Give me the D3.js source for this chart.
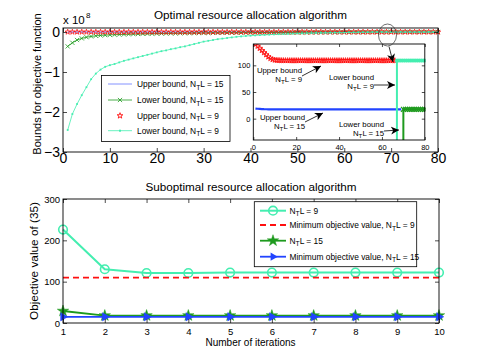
<!DOCTYPE html>
<html><head><meta charset="utf-8">
<script src="https://cdn.jsdelivr.net/npm/d3@7"></script>
<style>body{margin:0;background:#fff}</style>
</head><body><svg id="c" width="485" height="363"></svg>
<script>
// ---------------- DATA ----------------
const iterations = d3.range(1, 81);
const yScaleFactor = 1e8;
const upperBound15 = [
19.0,18.6,18.3,18.0,17.8,17.7,17.6,17.5,17.5,17.5,
17.5,17.5,17.5,17.5,17.5,17.5,17.5,17.5,17.5,17.5,
17.5,17.5,17.5,17.5,17.5,17.5,17.5,17.5,17.5,17.5,
17.5,17.5,17.5,17.5,17.5,17.5,17.5,17.5,17.5,17.5,
17.5,17.5,17.5,17.5,17.5,17.5,17.5,17.5,17.5,17.5,
17.5,17.5,17.5,17.5,17.5,17.5,17.5,17.5,17.5,17.5,
17.5,17.5,17.5,17.5,17.5,17.5,17.5,17.5,17.5,17.5,
17.5,17.5,17.5,17.5,17.5,17.5,17.5,17.5,17.5,17.5];
const lowerBound15 = [
-0.36e8,-0.27e8,-0.20e8,-0.16e8,-0.13e8,-0.11e8,-0.095e8,-0.085e8,-0.078e8,-0.072e8,
-0.067e8,-0.063e8,-0.059e8,-0.055e8,-0.052e8,-0.049e8,-0.046e8,-0.044e8,-0.042e8,-0.040e8,
-0.038e8,-0.036e8,-0.034e8,-0.033e8,-0.031e8,-0.030e8,-0.029e8,-0.027e8,-0.026e8,-0.025e8,
-0.024e8,-0.023e8,-0.022e8,-0.021e8,-0.020e8,-0.019e8,-0.018e8,-0.017e8,-0.016e8,-0.015e8,
-0.014e8,-0.013e8,-0.013e8,-0.012e8,-0.011e8,-0.011e8,-0.010e8,-0.010e8,-0.009e8,-0.009e8,
-0.008e8,-0.008e8,-0.007e8,-0.007e8,-0.006e8,-0.006e8,-0.005e8,-0.005e8,-0.005e8,-0.004e8,
-0.004e8,-0.004e8,-0.003e8,-0.003e8,-0.003e8,-0.002e8,-0.002e8,-0.002e8,-0.001e8,17.5,
17.5,17.5,17.5,17.5,17.5,17.5,17.5,17.5,17.5,17.5];
const upperBound9 = [
140,136,132,128,124,120,116,113,111,110,
109.6,109.4,109.2,109.1,109,109,109,109,109,109,
109,109,109,109,109,109,109,109,109,109,
109,109,109,109,109,109,109,109,109,109,
109,109,109,109,109,109,109,109,109,109,
109,109,109,109,109,109,109,109,109,109,
109,109,109,109,109,109,109,109,109,109,
109,109,109,109,109,109,109,109,109,109];
const lowerBound9 = [
-2.45e8,-2.05e8,-1.80e8,-1.58e8,-1.38e8,-1.18e8,-1.04e8,-0.94e8,-0.87e8,-0.83e8,
-0.80e8,-0.76e8,-0.72e8,-0.69e8,-0.66e8,-0.63e8,-0.60e8,-0.57e8,-0.54e8,-0.51e8,
-0.48e8,-0.46e8,-0.43e8,-0.41e8,-0.38e8,-0.36e8,-0.33e8,-0.30e8,-0.27e8,-0.24e8,
-0.22e8,-0.20e8,-0.18e8,-0.165e8,-0.15e8,-0.135e8,-0.12e8,-0.11e8,-0.10e8,-0.092e8,
-0.085e8,-0.078e8,-0.072e8,-0.066e8,-0.060e8,-0.055e8,-0.050e8,-0.046e8,-0.042e8,-0.038e8,
-0.035e8,-0.032e8,-0.029e8,-0.026e8,-0.024e8,-0.022e8,-0.020e8,-0.018e8,-0.016e8,-0.014e8,
-0.012e8,-0.010e8,-0.008e8,-0.006e8,-0.004e8,-0.002e8,109,109,109,109,
109,109,109,109,109,109,109,109,109,109];
const mainXTicks = [0,10,20,30,40,50,60,70,80];
const mainYTicks = [-3,-2,-1,0];
const insetXTicks = [0,20,40,60,80];
const insetYTicks = [0,50,100];
const topLegendLabels = ["Upper bound, N_TL = 15","Lower bound, N_TL = 15","Upper bound, N_TL = 9","Lower bound, N_TL = 9"];

const subIterations = [1,2,3,4,5,6,7,8,9,10];
const subN9   = [226,130,121,121,122,122,122,122,122,122];
const subMin9 = [110,110,110,110,110,110,110,110,110,110];
const subN15  = [29,18,18,18,18,18,18,18,18,18];
const subMin15= [15,15,15,15,15,15,15,15,15,15];
const subYTicks = [0,100,200,300];
const subLegendLabels = ["N_TL = 9","Minimum objective value, N_TL = 9","N_TL = 15","Minimum objective value, N_TL = 15"];

// ---------------- STYLE ----------------
const FONT = '"Liberation Sans", Arial, Helvetica, sans-serif';
const C_BLUE = "#2244ff", C_GREEN = "#1e9a1e", C_RED = "#ff1010", C_AQUA = "#44eeb0";

const svg = d3.select("#c");
svg.append("rect").attr("width",485).attr("height",363).attr("fill","#fff");
const defs = svg.append("defs");
defs.append("marker").attr("id","arr").attr("markerUnits","userSpaceOnUse")
  .attr("markerWidth",9).attr("markerHeight",8).attr("refX",8).attr("refY",4).attr("orient","auto")
  .append("path").attr("d","M0,0 L8,4 L0,8 L2.2,4 Z").attr("fill","#000");

function richText(sel, str, fs) {
  const parts = str.split("_T");
  sel.append("tspan").text(parts[0]);
  if (parts.length > 1) {
    sel.append("tspan").attr("dy", fs*0.3).attr("font-size", fs*0.8).text("T");
    sel.append("tspan").attr("dy", -fs*0.3).text(parts[1]);
  }
}

function drawAxes(g, x, y, xt, yt, o) {
  const [x0,x1] = x.range(); const [y0,y1] = y.range();
  const fmt = d3.format("d");
  const st = s => { s.select(".domain").remove(); s.selectAll("line").attr("stroke","#000").attr("stroke-width",0.7); };
  g.append("g").attr("transform",`translate(0,${y0})`)
    .call(d3.axisBottom(x).tickValues(xt).tickSizeInner(-o.tick).tickSizeOuter(0).tickPadding(o.xpad).tickFormat(fmt))
    .call(st).attr("font-family",FONT).attr("font-size",o.fs);
  g.append("g").attr("transform",`translate(0,${y1})`)
    .call(d3.axisTop(x).tickValues(xt).tickSizeInner(-o.tick).tickSizeOuter(0).tickFormat(()=>""))
    .call(st);
  g.append("g").attr("transform",`translate(${x0},0)`)
    .call(d3.axisLeft(y).tickValues(yt).tickSizeInner(-o.tick).tickSizeOuter(0).tickPadding(o.ypad).tickFormat(fmt))
    .call(st).attr("font-family",FONT).attr("font-size",o.fs);
  g.append("g").attr("transform",`translate(${x1},0)`)
    .call(d3.axisRight(y).tickValues(yt).tickSizeInner(-o.tick).tickSizeOuter(0).tickFormat(()=>""))
    .call(st);
  g.append("rect").attr("x",x0).attr("y",y1).attr("width",x1-x0).attr("height",y0-y1)
    .attr("fill","none").attr("stroke","#000").attr("stroke-width",o.sw);
}

const starSym = r => d3.symbol(d3.symbolStar, r*r/0.8908130915292852)();
const xSym = r => `M${-r},${-r}L${r},${r}M${-r},${r}L${r},${-r}`;
const triSym = s => d3.symbol(d3.symbolTriangle, s)();

function drawLine(g, pts, x, y, color, w, dash) {
  g.append("path").datum(pts).attr("fill","none").attr("stroke",color).attr("stroke-width",w)
    .attr("stroke-dasharray", dash || null).attr("stroke-linejoin","round")
    .attr("d", d3.line().x(d=>x(d[0])).y(d=>y(d[1])));
}
function drawMarkers(g, pts, x, y, pathStr, attrs, rot) {
  const s = g.append("g").selectAll("path").data(pts).join("path")
    .attr("d", pathStr)
    .attr("transform", d=>`translate(${x(d[0])},${y(d[1])})${rot?` rotate(${rot})`:""}`);
  for (const k in attrs) s.attr(k, attrs[k]);
}
function drawSquares(g, pts, x, y, sz, color) {
  g.append("g").selectAll("rect").data(pts).join("rect")
    .attr("x", d=>x(d[0])-sz/2).attr("y", d=>y(d[1])-sz/2).attr("width",sz).attr("height",sz).attr("fill",color);
}

// ---------------- MAIN (top) ----------------
const mx = d3.scaleLinear().domain([0,80]).range([63,438]);
const my = d3.scaleLinear().domain([-3,0.1]).range([152,28]);
const gMain = svg.append("g");
const pt = arr => iterations.map((it,i)=>[it, arr[i]/yScaleFactor]);

drawLine(gMain, pt(upperBound15), mx, my, C_BLUE, 0.8);
drawLine(gMain, pt(lowerBound15), mx, my, C_GREEN, 0.8);
drawMarkers(gMain, pt(lowerBound15), mx, my, xSym(2.1), {fill:"none",stroke:C_GREEN,"stroke-width":0.8});
drawMarkers(gMain, pt(upperBound9), mx, my, starSym(2.8), {fill:"none",stroke:C_RED,"stroke-width":0.8});
drawLine(gMain, pt(lowerBound9), mx, my, C_AQUA, 0.8);
drawSquares(gMain, pt(lowerBound9), mx, my, 1.8, C_AQUA);
drawAxes(gMain, mx, my, mainXTicks, mainYTicks, {tick:4, xpad:1.5, ypad:3, fs:14, sw:0.9});

// titles / labels
svg.append("text").attr("x",250.5).attr("y",18.5).attr("text-anchor","middle")
  .attr("font-family",FONT).attr("font-size",11.7).text("Optimal resource allocation algorithm");
svg.append("text").attr("x",63).attr("y",24).attr("font-family",FONT).attr("font-size",11.5).text("x 10");
svg.append("text").attr("x",86).attr("y",17.5).attr("font-family",FONT).attr("font-size",8).text("8");
svg.append("text").attr("transform","translate(41,84) rotate(-90)").attr("text-anchor","middle")
  .attr("font-family",FONT).attr("font-size",11).text("Bounds for objective function");

// top legend
{
  const lg = svg.append("g");
  lg.append("rect").attr("x",101.5).attr("y",75.5).attr("width",128.5).attr("height",66)
    .attr("fill","#fff").attr("stroke","#000").attr("stroke-width",0.8);
  const ys = [84,100,115.7,130.7];
  lg.append("line").attr("x1",108).attr("x2",132).attr("y1",ys[0]).attr("y2",ys[0]).attr("stroke","#6677ff").attr("stroke-width",0.8);
  lg.append("line").attr("x1",108).attr("x2",132).attr("y1",ys[1]).attr("y2",ys[1]).attr("stroke",C_GREEN).attr("stroke-width",0.8);
  lg.append("path").attr("d",xSym(2.1)).attr("transform",`translate(120,${ys[1]})`).attr("stroke",C_GREEN).attr("stroke-width",0.8).attr("fill","none");
  lg.append("path").attr("d",starSym(3)).attr("transform",`translate(120,${ys[2]})`).attr("stroke",C_RED).attr("stroke-width",0.9).attr("fill","none");
  lg.append("line").attr("x1",108).attr("x2",132).attr("y1",ys[3]).attr("y2",ys[3]).attr("stroke",C_AQUA).attr("stroke-width",0.8);
  lg.append("rect").attr("x",119).attr("y",ys[3]-1).attr("width",2).attr("height",2).attr("fill",C_AQUA);
  topLegendLabels.forEach((t,i)=>{
    const tx = lg.append("text").attr("x",137).attr("y",ys[i]+3).attr("font-family",FONT).attr("font-size",8.4);
    richText(tx, t, 8.4);
  });
}

// inset
{
  const ix = d3.scaleLinear().domain([0,80]).range([253.3,424.8]);
  const iy = d3.scaleLinear().domain([-40,140]).range([140,44]);
  const gi = svg.append("g");
  gi.append("rect").attr("x",253.3).attr("y",44).attr("width",172.4).attr("height",96).attr("fill","#fff");
  defs.append("clipPath").attr("id","insetClip").append("rect").attr("x",253.3).attr("y",44).attr("width",172.4).attr("height",96);
  const gc = gi.append("g").attr("clip-path","url(#insetClip)");
  const guard = v => Math.max(v, -1e5);
  const ipt = arr => iterations.map((it,i)=>[it, guard(arr[i])]);
  const notConv = (up, lo) => iterations.map((it,i)=>[it, up[i], lo[i]]).filter(d=>d[2] < d[1]).map(d=>[d[0], d[1]]);
  drawLine(gc, notConv(upperBound15, lowerBound15), ix, iy, C_BLUE, 2.2);
  const lb15 = ipt(lowerBound15);
  drawLine(gc, lb15, ix, iy, C_GREEN, 2);
  drawMarkers(gc, lb15, ix, iy, xSym(2.4), {fill:"none",stroke:C_GREEN,"stroke-width":1.2});
  drawMarkers(gc, notConv(upperBound9, lowerBound9), ix, iy, starSym(2.9), {fill:"none",stroke:C_RED,"stroke-width":0.9});
  const lb9 = ipt(lowerBound9);
  drawLine(gc, lb9, ix, iy, C_AQUA, 2);
  drawSquares(gc, lb9, ix, iy, 3.5, C_AQUA);
  drawAxes(gi, ix, iy, insetXTicks, insetYTicks, {tick:3, xpad:4.5, ypad:3, fs:7.5, sw:0.9});

  const ann = svg.append("g").attr("font-family",FONT).attr("font-size",7.8).attr("text-anchor","end");
  const notes = [
    {l1:"Upper bound", l2:"N_TL = 9",  x:302, y1:72.5, y2:81.5, a:[302,76,321,66]},
    {l1:"Lower bound", l2:"N_TL = 9",  x:374, y1:80,   y2:89,   a:[374,85,395,85]},
    {l1:"Upper bound", l2:"N_TL = 15", x:305, y1:119.5,y2:128.5,a:[305,122,323,113]},
    {l1:"Lower bound", l2:"N_TL = 15", x:384, y1:126.5,y2:135.5,a:[384,131,399,130]}
  ];
  notes.forEach(n=>{
    ann.append("text").attr("x",n.x).attr("y",n.y1).text(n.l1);
    richText(ann.append("text").attr("x",n.x).attr("y",n.y2), n.l2, 7.8);
    ann.append("line").attr("x1",n.a[0]).attr("y1",n.a[1]).attr("x2",n.a[2]).attr("y2",n.a[3])
      .attr("stroke","#000").attr("stroke-width",0.8).attr("marker-end","url(#arr)");
  });
  svg.append("ellipse").attr("cx",387.5).attr("cy",35).attr("rx",9).attr("ry",11)
    .attr("fill","none").attr("stroke","#333").attr("stroke-width",0.7);
  svg.append("line").attr("x1",389).attr("y1",46.5).attr("x2",393).attr("y2",62)
    .attr("stroke","#000").attr("stroke-width",0.8).attr("marker-end","url(#arr)");
}

// ---------------- SUB (bottom) ----------------
const sx = d3.scaleLinear().domain([1,10]).range([63,439]);
const sy = d3.scaleLinear().domain([0,300]).range([323,199]);
const gSub = svg.append("g");
const spt = arr => subIterations.map((it,i)=>[it, arr[i]]);
drawLine(gSub, spt(subN9), sx, sy, C_AQUA, 2);
drawMarkers(gSub, spt(subN9), sx, sy, d3.symbol(d3.symbolCircle, Math.PI*4.3*4.3)(), {fill:"none",stroke:C_AQUA,"stroke-width":1.6});
drawLine(gSub, spt(subMin9), sx, sy, C_RED, 1.8, "6,4");
drawLine(gSub, spt(subN15), sx, sy, C_GREEN, 1.8);
drawMarkers(gSub, spt(subN15), sx, sy, starSym(6), {fill:C_GREEN,stroke:C_GREEN,"stroke-width":0.5});
drawLine(gSub, spt(subMin15), sx, sy, C_BLUE, 1.8);
drawMarkers(gSub, spt(subMin15), sx, sy, triSym(30), {fill:C_BLUE,stroke:C_BLUE,"stroke-width":0.5}, 90);
drawAxes(gSub, sx, sy, subIterations, subYTicks, {tick:4, xpad:5, ypad:3, fs:9.5, sw:0.9});

svg.append("text").attr("x",251).attr("y",190.5).attr("text-anchor","middle")
  .attr("font-family",FONT).attr("font-size",11.7).text("Suboptimal resource allocation algorithm");
svg.append("text").attr("x",250.5).attr("y",345.5).attr("text-anchor","middle")
  .attr("font-family",FONT).attr("font-size",10).text("Number of iterations");
svg.append("text").attr("transform","translate(37.7,261) rotate(-90)").attr("text-anchor","middle")
  .attr("font-family",FONT).attr("font-size",11.8).text("Objective value of (35)");

// bottom legend
{
  const lg = svg.append("g");
  lg.append("rect").attr("x",254.3).attr("y",201.7).attr("width",162.4).attr("height",65)
    .attr("fill","#fff").attr("stroke","#000").attr("stroke-width",0.8);
  const ys = [210.7,225,240.7,256.7];
  const L = (y,c,w,d)=>lg.append("line").attr("x1",260).attr("x2",286).attr("y1",y).attr("y2",y).attr("stroke",c).attr("stroke-width",w).attr("stroke-dasharray",d||null);
  L(ys[0],C_AQUA,2);
  lg.append("path").attr("d",d3.symbol(d3.symbolCircle, Math.PI*4.3*4.3)()).attr("transform",`translate(273,${ys[0]})`).attr("fill","none").attr("stroke",C_AQUA).attr("stroke-width",1.6);
  L(ys[1],C_RED,1.8,"6,4");
  L(ys[2],C_GREEN,1.8);
  lg.append("path").attr("d",starSym(6)).attr("transform",`translate(273,${ys[2]})`).attr("fill",C_GREEN).attr("stroke",C_GREEN).attr("stroke-width",0.5);
  L(ys[3],C_BLUE,1.8);
  lg.append("path").attr("d",triSym(30)).attr("transform",`translate(273,${ys[3]}) rotate(90)`).attr("fill",C_BLUE);
  subLegendLabels.forEach((t,i)=>{
    const tx = lg.append("text").attr("x",289.5).attr("y",ys[i]+3).attr("font-family",FONT).attr("font-size",8.4);
    richText(tx, t, 8.4);
  });
}
</script></body></html>
